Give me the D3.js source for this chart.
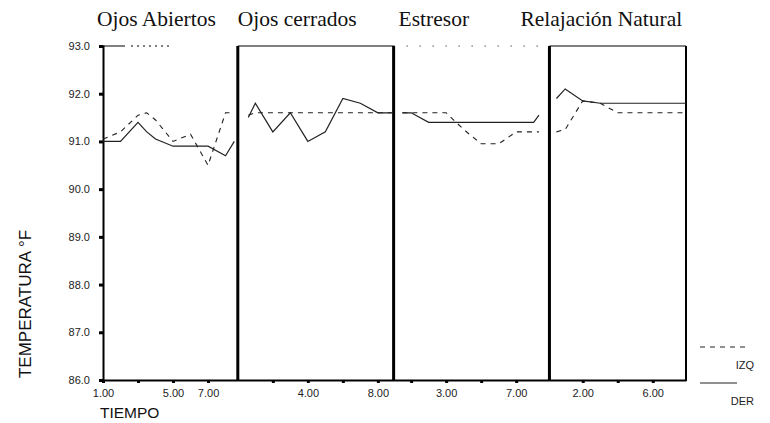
<!DOCTYPE html>
<html>
<head>
<meta charset="utf-8">
<script src="https://cdn.jsdelivr.net/npm/d3@7"></script>
<style>
  body { margin: 0; background: #fff; }
  svg { display: block; }
  .tick text { font-family: "Liberation Sans", Arial, sans-serif; font-size: 11px; fill: #222; }
</style>
</head>
<body>
<svg id="chart" width="770" height="423"></svg>
<script>
// phases (one panel each)
const phases = ['Ojos Abiertos', 'Ojos cerrados', 'Estresor', 'Relajación Natural'];
const timeDomains = [[1, 8.7], [0, 8.9], [0, 8.9], [0.1, 7.9]];
const timeTicks = [[1, 3, 5, 7], [2, 4, 6, 8], [1, 3, 5, 7], [2, 4, 6]];
const timeTickLabels = [['1.00', '', '5.00', '7.00'], ['', '4.00', '', '8.00'], ['', '3.00', '', '7.00'], ['2.00', '', '6.00']];

// time values of the points in each panel
const times = [
  [1, 2, 3, 3.5, 4, 5, 6, 7, 8, 8.5],
  [0.6, 1, 2, 3, 4, 5, 6, 7, 8, 8.8],
  [0.5, 1, 2, 3, 4, 5, 6, 7, 8, 8.3],
  [0.5, 1, 2, 3, 4, 5, 6, 7, 7.9]
];
// left hand (IZQ, dashed)
const izq = [
  [91.05, 91.2, 91.55, 91.6, 91.45, 91.0, 91.15, 90.5, 91.6, 91.6],
  [91.55, 91.6, 91.6, 91.6, 91.6, 91.6, 91.6, 91.6, 91.6, 91.6],
  [91.6, 91.6, 91.6, 91.6, 91.25, 90.95, 90.95, 91.2, 91.2, 91.2],
  [91.2, 91.25, 91.85, 91.8, 91.6, 91.6, 91.6, 91.6, 91.6]
];
// right hand (DER, solid)
const der = [
  [91.0, 91.0, 91.4, 91.2, 91.05, 90.9, 90.9, 90.9, 90.7, 91.0],
  [91.5, 91.8, 91.2, 91.6, 91.0, 91.2, 91.9, 91.8, 91.6, 91.6],
  [91.6, 91.6, 91.4, 91.4, 91.4, 91.4, 91.4, 91.4, 91.4, 91.55],
  [91.9, 92.1, 91.85, 91.8, 91.8, 91.8, 91.8, 91.8, 91.8]
];
const tempTicks = [86, 87, 88, 89, 90, 91, 92, 93];

const plotLeft = 103, plotRight = 686, plotTop = 46, plotBottom = 380;
const titleDx = [-6, 0, 5, -29];
const topBorderDash = ['22,6,2,4,2,4,2,4,2,4,2,4,2,4,2,200', null, '1,12', null];

const svg = d3.select('#chart');

const y = d3.scaleLinear().domain([86, 93]).range([plotBottom, plotTop]);

// panels get widths proportional to their time span
const spans = timeDomains.map(d => d[1] - d[0]);
const unit = (plotRight - plotLeft) / d3.sum(spans);
const starts = spans.map((s, i) => plotLeft + d3.sum(spans.slice(0, i)) * unit);
const xs = timeDomains.map((d, i) => d3.scaleLinear().domain(d).range([starts[i], starts[i] + spans[i] * unit]));

// titles
svg.selectAll('.phase-title')
  .data(phases)
  .join('text')
  .attr('class', 'phase-title')
  .attr('x', (d, i) => starts[i] + titleDx[i])
  .attr('y', 26)
  .style('font-family', '"Liberation Serif", "Times New Roman", serif')
  .style('font-size', '21.5px')
  .style('fill', '#111')
  .text(d => d);

// y axis
const yAxisG = svg.append('g')
  .attr('transform', `translate(${plotLeft}, 0)`)
  .call(d3.axisLeft(y).tickValues(tempTicks).tickFormat(d3.format('.1f')).tickSize(4).tickPadding(9));
yAxisG.select('.domain').attr('stroke', '#000').attr('stroke-width', 2);
yAxisG.selectAll('.tick line').attr('stroke', '#000').attr('stroke-width', 3);

// bottom axes, one per panel
xs.forEach((x, i) => {
  const g = svg.append('g')
    .attr('transform', `translate(0, ${plotBottom})`)
    .call(d3.axisBottom(x)
      .tickValues(timeTicks[i])
      .tickSize(3)
      .tickPadding(6)
      .tickSizeOuter(0)
      .tickFormat((d, j) => timeTickLabels[i][j]));
  g.select('.domain').attr('stroke', '#000').attr('stroke-width', 2);
  g.selectAll('.tick line').attr('stroke', '#000').attr('stroke-width', 3);

  // top border
  svg.append('line')
    .attr('x1', x.range()[0]).attr('x2', x.range()[1])
    .attr('y1', plotTop).attr('y2', plotTop)
    .attr('stroke', '#000')
    .attr('stroke-width', 1)
    .attr('stroke-dasharray', topBorderDash[i]);

  // divider at panel end
  svg.append('line')
    .attr('x1', x.range()[1]).attr('x2', x.range()[1])
    .attr('y1', plotTop).attr('y2', plotBottom + 1)
    .attr('stroke', '#000')
    .attr('stroke-width', i === 3 ? 2 : 3);

  const line = d3.line()
    .x((d, j) => x(times[i][j]))
    .y(d => y(d));

  svg.append('path')
    .datum(izq[i])
    .attr('d', line)
    .attr('fill', 'none')
    .attr('stroke', '#222')
    .attr('stroke-width', 1.1)
    .attr('stroke-dasharray', '5,5');

  svg.append('path')
    .datum(der[i])
    .attr('d', line)
    .attr('fill', 'none')
    .attr('stroke', '#222')
    .attr('stroke-width', 1.2);
});

// axis titles
svg.append('text')
  .attr('transform', `translate(31, 304) rotate(-90)`)
  .attr('text-anchor', 'middle')
  .style('font-family', '"Liberation Sans", Arial, sans-serif')
  .style('font-size', '17px')
  .style('fill', '#111')
  .text('TEMPERATURA °F');

svg.append('text')
  .attr('x', 100)
  .attr('y', 418)
  .style('font-family', '"Liberation Sans", Arial, sans-serif')
  .style('font-size', '15.5px')
  .style('fill', '#111')
  .text('TIEMPO');

// legend
const legend = [{name: 'IZQ', dash: '5,5'}, {name: 'DER', dash: null}];
const legendG = svg.selectAll('.legend-item')
  .data(legend)
  .join('g')
  .attr('class', 'legend-item')
  .attr('transform', (d, i) => `translate(700, ${347 + i * 36})`);
legendG.append('line')
  .attr('x1', 0).attr('x2', d => d.dash ? 45 : 37)
  .attr('stroke', '#222')
  .attr('stroke-width', 1.1)
  .attr('stroke-dasharray', d => d.dash);
legendG.append('text')
  .attr('x', 54)
  .attr('y', 22)
  .attr('text-anchor', 'end')
  .style('font-family', '"Liberation Sans", Arial, sans-serif')
  .style('font-size', '11px')
  .style('fill', '#222')
  .text(d => d.name);
</script>
</body>
</html>
